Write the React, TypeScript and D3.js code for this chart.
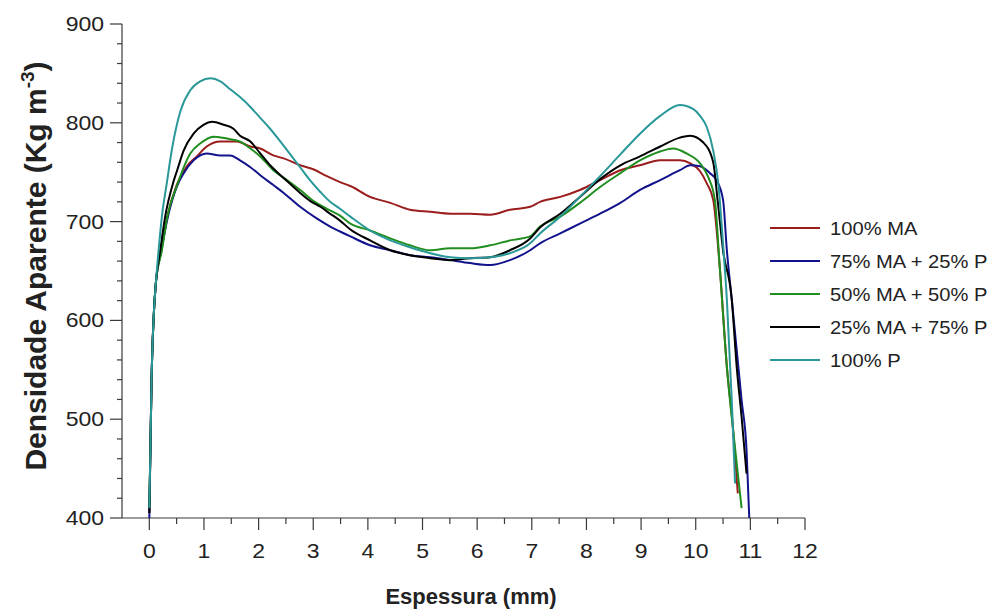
import * as d3 from 'd3';
import React from 'react';

// eixos
const xTicks = [0, 1, 2, 3, 4, 5, 6, 7, 8, 9, 10, 11, 12];
const yTicks = [400, 500, 600, 700, 800, 900];

const seriesNames = ["100% MA", "75% MA + 25% P", "50% MA + 50% P", "25% MA + 75% P", "100% P"];
const seriesColors = ["#9b1d1d", "#12128c", "#1f8e1f", "#000000", "#2a9898"];

// [espessura (mm), densidade (kg/m3)]
const ma100 = [
  [0, 405], [0.02, 470], [0.04, 537], [0.08, 604], [0.12, 638], [0.22, 671], [0.33, 705], [0.5, 737],
  [0.7, 757], [0.87, 766], [1.05, 776], [1.3, 781], [1.6, 781], [1.85, 776], [2.03, 774], [2.27, 767],
  [2.46, 764], [2.76, 757], [3.0, 753], [3.25, 746], [3.49, 740], [3.68, 736], [4.04, 725], [4.41, 719],
  [4.77, 712], [5.14, 710], [5.51, 708], [5.87, 708], [6.24, 707], [6.6, 712], [6.97, 715], [7.15, 720],
  [7.52, 725], [7.88, 732], [8.25, 742], [8.62, 752], [8.98, 757], [9.35, 762], [9.71, 762], [9.9, 759],
  [10.08, 751], [10.2, 739], [10.32, 722], [10.44, 654], [10.57, 553], [10.69, 486], [10.77, 425],
];

const ma75 = [
  [0, 400], [0.02, 470], [0.04, 537], [0.08, 604], [0.12, 638], [0.22, 671], [0.34, 705], [0.5, 735],
  [0.63, 749], [0.81, 762], [1.05, 769], [1.3, 767], [1.48, 767], [1.66, 762], [1.85, 755], [2.03, 747],
  [2.27, 737], [2.46, 729], [2.76, 715], [3.07, 703], [3.31, 695], [3.49, 690], [3.68, 685], [4.04, 676],
  [4.41, 671], [4.77, 666], [5.14, 664], [5.51, 661], [5.87, 658], [6.24, 656], [6.6, 661], [6.97, 671],
  [7.15, 678], [7.52, 688], [7.88, 698], [8.25, 708], [8.62, 719], [8.98, 732], [9.35, 742], [9.71, 752],
  [9.9, 757], [10.08, 756], [10.26, 749], [10.38, 742], [10.5, 722], [10.57, 671], [10.66, 621],
  [10.75, 570], [10.84, 519], [10.93, 469], [10.98, 400],
];

const ma50 = [
  [0, 410], [0.02, 470], [0.04, 537], [0.08, 604], [0.12, 638], [0.23, 671], [0.33, 705], [0.51, 737],
  [0.75, 769], [0.93, 779], [1.17, 786], [1.42, 784], [1.66, 781], [1.85, 774], [2.03, 766], [2.27, 752],
  [2.52, 742], [2.76, 732], [3.0, 721], [3.25, 713], [3.49, 706], [3.68, 698], [4.04, 691], [4.41, 683],
  [4.77, 676], [5.14, 671], [5.51, 673], [5.87, 673], [6.24, 676], [6.6, 681], [6.97, 685], [7.15, 695],
  [7.52, 705], [7.88, 719], [8.25, 735], [8.62, 749], [8.98, 762], [9.35, 771], [9.59, 774], [9.83, 769],
  [10.08, 759], [10.23, 745], [10.35, 722], [10.44, 654], [10.57, 553], [10.69, 486], [10.81, 425], [10.84, 410],
];

const ma25 = [
  [0, 405], [0.02, 470], [0.04, 537], [0.08, 604], [0.12, 638], [0.2, 671], [0.29, 705], [0.44, 740],
  [0.51, 752], [0.63, 772], [0.81, 789], [0.99, 798], [1.15, 801], [1.36, 798], [1.54, 794], [1.66, 787],
  [1.85, 781], [2.03, 769], [2.21, 757], [2.4, 747], [2.58, 738], [2.76, 729], [2.94, 721], [3.13, 715],
  [3.31, 708], [3.49, 701], [3.68, 692], [4.04, 681], [4.41, 671], [4.77, 666], [5.14, 663], [5.51, 661],
  [5.87, 663], [6.24, 664], [6.6, 671], [6.97, 683], [7.15, 694], [7.52, 708], [7.88, 725], [8.25, 743],
  [8.62, 757], [8.98, 766], [9.35, 776], [9.71, 785], [9.9, 787], [10.14, 780], [10.32, 760], [10.4, 722],
  [10.5, 671], [10.66, 621], [10.75, 553], [10.84, 502], [10.93, 445],
];

const p100 = [
  [0, 410], [0.02, 470], [0.04, 537], [0.08, 604], [0.12, 638], [0.17, 671], [0.23, 705], [0.32, 739],
  [0.41, 772], [0.57, 812], [0.75, 833], [0.93, 842], [1.12, 845], [1.3, 842], [1.48, 834], [1.66, 826],
  [1.85, 816], [2.03, 805], [2.21, 794], [2.4, 781], [2.58, 768], [2.76, 755], [2.94, 742], [3.13, 730],
  [3.31, 720], [3.49, 713], [3.68, 705], [4.04, 691], [4.41, 681], [4.77, 674], [5.14, 668], [5.51, 664],
  [5.87, 663], [6.24, 664], [6.6, 668], [6.97, 678], [7.15, 688], [7.52, 705], [7.88, 725], [8.25, 746],
  [8.62, 768], [8.98, 789], [9.35, 807], [9.71, 818], [9.95, 814], [10.08, 807], [10.2, 796], [10.32, 772],
  [10.42, 735], [10.49, 685], [10.57, 621], [10.66, 519], [10.72, 435],
];

const allSeries = [ma100, ma75, ma50, ma25, p100];

function App() {
  const ref = React.useRef(null);

  React.useEffect(() => {
    const svg = d3.select(ref.current);
    svg.selectAll("*").remove();

    const x = d3.scaleLinear().domain([-0.5, 12]).range([122, 805]);
    const y = d3.scaleLinear().domain([400, 900]).range([518, 24]);
    const axisColor = "#3a3a3a";
    const sx = 1.15; // the original picture is a bit stretched sideways

    // y axis
    const gy = svg.append("g").attr("stroke", axisColor).attr("stroke-width", 1.2);
    gy.append("line")
      .attr("x1", x(-0.5)).attr("x2", x(-0.5))
      .attr("y1", y(400)).attr("y2", y(900));
    gy.selectAll("line.tick")
      .data(d3.range(400, 901, 20))
      .join("line")
        .attr("class", "tick")
        .attr("x1", x(-0.5))
        .attr("x2", d => x(-0.5) - (d % 100 === 0 ? 12 : 5))
        .attr("y1", d => y(d)).attr("y2", d => y(d));

    // x axis
    const gx = svg.append("g").attr("stroke", axisColor).attr("stroke-width", 1.2);
    gx.append("line")
      .attr("x1", x(-0.5)).attr("x2", x(12))
      .attr("y1", y(400)).attr("y2", y(400));
    gx.selectAll("line.tick")
      .data(d3.range(0, 12.01, 0.5))
      .join("line")
        .attr("class", "tick")
        .attr("x1", d => x(d)).attr("x2", d => x(d))
        .attr("y1", y(400))
        .attr("y2", d => y(400) + (d % 1 === 0 ? 12 : 6));

    const font = "'Liberation Sans', Arial, sans-serif";

    svg.append("g")
        .attr("font-family", font)
        .attr("font-size", 20)
        .attr("fill", "#222")
      .selectAll("g")
      .data(yTicks)
      .join("g")
        .attr("transform", d => `translate(104,${y(d) + 7}) scale(${sx},1)`)
      .append("text")
        .attr("text-anchor", "end")
        .text(d => d);

    svg.append("g")
        .attr("font-family", font)
        .attr("font-size", 20)
        .attr("fill", "#222")
      .selectAll("g")
      .data(xTicks)
      .join("g")
        .attr("transform", d => `translate(${x(d)},558) scale(${sx},1)`)
      .append("text")
        .attr("text-anchor", "middle")
        .text(d => d);

    // titles
    svg.append("text")
        .attr("x", 471).attr("y", 604)
        .attr("font-family", font)
        .attr("font-size", 22)
        .attr("font-weight", "bold")
        .attr("fill", "#222")
        .attr("text-anchor", "middle")
        .text("Espessura (mm)");

    const yt = svg.append("text")
        .attr("transform", `translate(46,266) rotate(-90)`)
        .attr("font-family", font)
        .attr("font-size", 30)
        .attr("font-weight", "bold")
        .attr("fill", "#222")
        .attr("text-anchor", "middle");
    yt.append("tspan").text("Densidade Aparente (Kg m");
    yt.append("tspan").attr("dy", -12).attr("font-size", 19).text("-3");
    yt.append("tspan").attr("dy", 12).text(")");

    // curves
    const line = d3.line()
      .x(d => x(d[0]))
      .y(d => y(d[1]))
      .curve(d3.curveMonotoneX);

    svg.append("g")
        .attr("fill", "none")
        .attr("stroke-width", 2)
        .attr("stroke-linejoin", "round")
      .selectAll("path")
      .data(allSeries)
      .join("path")
        .attr("stroke", (d, i) => seriesColors[i])
        .attr("d", line);

    // legend
    const leg = svg.append("g")
      .selectAll("g")
      .data(seriesNames)
      .join("g")
        .attr("transform", (d, i) => `translate(770,${228 + i * 33})`);
    leg.append("line")
        .attr("x1", 0).attr("x2", 50)
        .attr("stroke", (d, i) => seriesColors[i])
        .attr("stroke-width", 2.2);
    leg.append("g")
        .attr("transform", `translate(60,6.5) scale(1.12,1)`)
      .append("text")
        .attr("font-family", font)
        .attr("font-size", 18)
        .attr("fill", "#222")
        .text(d => d);
  }, []);

  return (
    <svg ref={ref} width={995} height={610}
      style={{ position: "absolute", left: 0, top: 0, background: "#fff" }} />
  );
}

export default App;
